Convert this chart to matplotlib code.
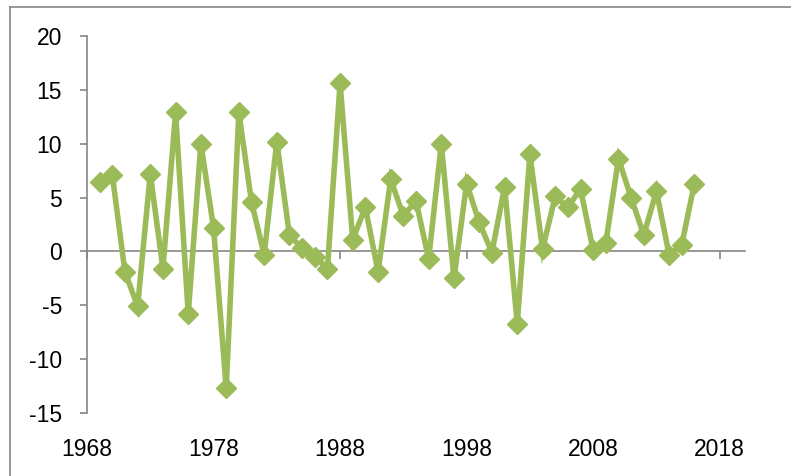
import matplotlib
matplotlib.use("Agg")
import matplotlib.pyplot as plt
from matplotlib.lines import Line2D

years = list(range(1969, 2017))
values = [6.4, 7.1, -1.9, -5.1, 7.2, -1.6, 12.9, -5.8, 10.0, 2.2,
          -12.7, 12.9, 4.6, -0.3, 10.2, 1.5, 0.3, -0.5, -1.6, 15.6,
          1.1, 4.1, -1.9, 6.7, 3.3, 4.7, -0.7, 10.0, -2.5, 6.3,
          2.7, -0.1, 6.0, -6.7, 9.0, 0.2, 5.1, 4.1, 5.8, 0.1,
          0.8, 8.6, 5.0, 1.5, 5.6, -0.3, 0.6, 6.3]
xticks = list(range(1968, 2019, 10))
yticks = list(range(-15, 21, 5))

green = "#9BBB59"
grey = "#868686"
plt.rcParams["font.family"] = ["Liberation Sans", "DejaVu Sans"]
plt.rcParams["axes.unicode_minus"] = False

W, H = 791, 476
fig = plt.figure(figsize=(W / 100, H / 100), dpi=100)
ax = fig.add_axes([87 / W, 1 - 413 / H, (745 - 87) / W, (413 - 36) / H])

ax.plot(years, values, color=green, lw=4, marker="D", ms=10.5,
        mfc=green, mec=green, solid_joinstyle="miter", clip_on=False)

ax.set_xlim(1968, 2020)
ax.set_ylim(-15, 20)
ax.set_xticks(xticks)
ax.set_yticks(yticks)

for s in ["top", "right"]:
    ax.spines[s].set_visible(False)
ax.spines["bottom"].set_position(("data", 0))
for s in ["left", "bottom"]:
    ax.spines[s].set_color(grey)
    ax.spines[s].set_linewidth(1.2)
ax.spines["bottom"].set_zorder(0)

ax.tick_params(axis="y", direction="out", length=5, width=1.2, color=grey,
               labelsize=16.5, pad=13)
ax.tick_params(axis="x", direction="out", length=5.5, width=1.2, color=grey,
               labelsize=16.5, pad=129)

# chart area border (cropped at right and bottom)
fig.add_artist(Line2D([10 / W, 1.0], [1 - 7 / H, 1 - 7 / H], color=grey, lw=1.2))
fig.add_artist(Line2D([10 / W, 10 / W], [0.0, 1 - 7 / H], color=grey, lw=1.2))

fig.savefig("out.png", dpi=100)
